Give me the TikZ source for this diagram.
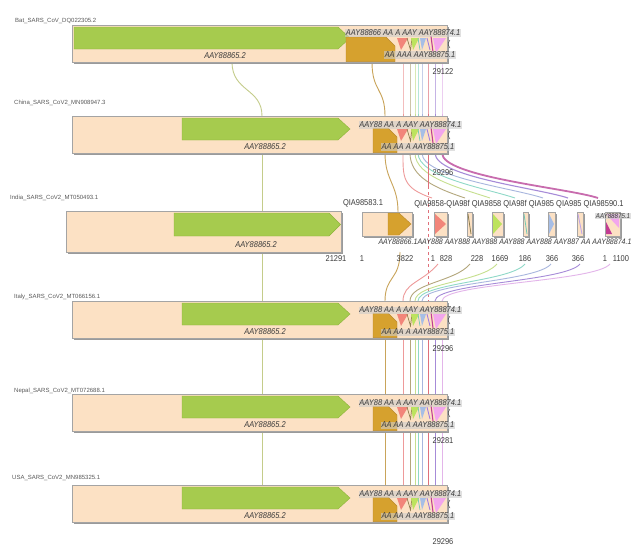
\documentclass[tikz,border=0pt]{standalone}
\usepackage{fontspec}
\setmainfont{Liberation Sans}
\newfontfamily\nrw[FakeStretch=0.88]{Liberation Sans}
\usetikzlibrary{backgrounds}
\definecolor{peach}{HTML}{FCE1C4}
\definecolor{boxline}{HTML}{A4A4A4}
\definecolor{shadc}{HTML}{9A9A9A}
\definecolor{ggreen}{HTML}{A6CB4E}
\definecolor{ggreenl}{HTML}{8DB33A}
\definecolor{gold}{HTML}{D6A12E}
\definecolor{goldd}{HTML}{B8882A}
\definecolor{gsalmon}{HTML}{F2857A}
\definecolor{glgreen}{HTML}{BDE35E}
\definecolor{gteal}{HTML}{6FC9B4}
\definecolor{gblue}{HTML}{A7BEE6}
\definecolor{gpurple}{HTML}{A37FE0}
\definecolor{gmag}{HTML}{C23C92}
\definecolor{gpink}{HTML}{F2A6EC}
\definecolor{golive}{HTML}{8E7E4E}
\definecolor{cgreen}{HTML}{C4CC8A}
\definecolor{cgold}{HTML}{C9A45A}
\definecolor{csalmon}{HTML}{EE9A9A}
\definecolor{colive}{HTML}{B3A77C}
\definecolor{clgreen}{HTML}{C6E08E}
\definecolor{cteal}{HTML}{8FD9C8}
\definecolor{cblue}{HTML}{A8B6DE}
\definecolor{cred}{HTML}{E0707A}
\definecolor{cpurple}{HTML}{A68BD8}
\definecolor{cmag}{HTML}{C86CAE}
\definecolor{cpink}{HTML}{E3B5EA}
\definecolor{labc}{HTML}{3C3C3C}
\definecolor{namec}{HTML}{5A5A5A}
\tikzset{
  tname/.style={font=\fontsize{6}{6}\selectfont, text=namec, inner sep=0pt, anchor=west},
  glab/.style={font=\nrw\itshape\fontsize{8.5}{8.5}\selectfont, text=labc, inner sep=0.5pt},
  numl/.style={font=\nrw\fontsize{8.5}{8.5}\selectfont, text=labc, inner sep=0pt},
  hl/.style={fill=gray!40, fill opacity=0.6, text opacity=1},
  boxs/.style={draw=boxline, fill=peach, line width=0.7pt},
  shad/.style={fill=shadc},
  conn/.style={line width=0.9pt},
}
\newcommand\sttrack[8]{%
\begin{scope}[shift={(0,#2)}]
\fill[shad] (73.5,1.6) rectangle (448.6,38.6);
\draw[boxs] (72,0) rectangle (447,37);
\draw[ggreenl, fill=ggreen, line width=0.4pt] (#3,2) -- (338,2) -- (350,13) -- (338,24) -- (#3,24) -- cycle;
\draw[goldd, fill=gold, line width=0.4pt] (#4,12) -- ({#5-9},12) -- (#5,21) -- (#5,36.6) -- (#4,36.6) -- cycle;
\fill[gsalmon] (397,13) -- (408,13) -- (401,25) -- cycle;
\draw[golive, line width=0.7pt] (407,13) -- (410.5,25) -- (412,13);
\fill[glgreen] (411,13) -- (419,13) -- (413,25) -- cycle;
\draw[gteal, line width=0.7pt] (418,13) -- (420,25);
\fill[gblue] (420,13) -- (426,13) -- (422,25) -- cycle;
\draw[gpurple, line width=0.9pt] (427,13) -- (430,25);
\draw[gmag, line width=1.1pt] (431,11) -- (433,27);
\fill[gpink] (433,13) -- (446,13) -- (436,28) -- cycle;
\draw[labc, line width=0.4pt] (450,15) .. controls (447.5,19) .. (450,23);
\node[glab] (#1-gl) at (#6,31) {AAY88865.2};
\node[numl] (#1-num) at (443,#8) {#7};
\foreach \k/\x in {sa/403,ol/410,lg/415,te/418,bl/422,rd/428,pu/435,pk/442} {
  \coordinate (#1-t-\k) at (\x,0);
  \coordinate (#1-b-\k) at (\x,37);
}
\end{scope}}
\begin{document}
\begin{tikzpicture}[x=1pt,y=-1pt]
\begin{pgfonlayer}{background}
\fill[white] (0,0) rectangle (632,547);
\end{pgfonlayer}
\useasboundingbox (0,0) rectangle (632,547);

% ---------- standard tracks ----------
\sttrack{bat}{25}{74}{346}{395}{225}{29122}{47}
\sttrack{chi}{116}{182}{373}{397}{265}{29296}{57}
\sttrack{ita}{301}{182}{373}{397}{265}{29296}{48}
\sttrack{nep}{394}{182}{373}{397}{265}{29281}{47}
\sttrack{usa}{485}{182}{373}{397}{265}{29296}{57}

\node[tname] (nbat) at (15,21) {Bat\_SARS\_CoV\_DQ022305.2};
\node[tname] (nchi) at (14,103) {China\_SARS\_CoV2\_MN908947.3};
\node[tname] (nind) at (10,198) {India\_SARS\_CoV2\_MT050493.1};
\node[tname] (nita) at (14,297) {Italy\_SARS\_CoV2\_MT066156.1};
\node[tname] (nnep) at (14,391) {Nepal\_SARS\_CoV2\_MT072688.1};
\node[tname] (nusa) at (12,478) {USA\_SARS\_CoV2\_MN985325.1};

\node[glab,hl,anchor=east] (batup) at (461,33) {AAY88866 AA A AAY AAY88874.1};
\node[glab,hl,anchor=east] (batlo) at (456,55) {AA AAA AAY88875.1};
\foreach \id/\T in {chi/116,ita/301,nep/394,usa/485} {
  \node[glab,hl,anchor=east] (\id-up) at (462,\T+9) {AAY88 AA A AAY AAY88874.1};
  \node[glab,hl,anchor=east] (\id-lo) at (455,\T+31) {AA AA A AAY88875.1};
}

% attach points for green and gold genes
\coordinate (bat-b-gr) at (232,62);
\coordinate (bat-b-go) at (372,62);
\foreach \id/\T in {chi/116,ita/301,nep/394,usa/485} {
  \coordinate (\id-t-gr) at (262,\T);
  \coordinate (\id-b-gr) at (262,\T+37);
  \coordinate (\id-t-go) at (385,\T);
  \coordinate (\id-b-go) at (385,\T+37);
}

% ---------- India track ----------
\fill[shad] (67.5,212.6) rectangle (342.6,253.6);
\draw[boxs] (66,211) rectangle (341,252);
\draw[ggreenl, fill=ggreen, line width=0.4pt] (174,213) -- (329,213) -- (340.5,224.5) -- (329,236) -- (174,236) -- cycle;
\node[glab] (in-gl) at (256,245) {AAY88865.2};
\node[numl] (in-n0) at (336,259) {21291};

\fill[shad] (363.5,213.6) rectangle (413.6,237.6);
\draw[boxs] (362,212) rectangle (412,236);
\draw[goldd, fill=gold, line width=0.4pt] (388,213) -- (399,213) -- (411,224) -- (399,235) -- (388,235) -- cycle;
\foreach \a/\b in {434/447,467/472,492/503,523/528,548/555,577/583,605/620} {
  \fill[shad] (\a+1.5,213.6) rectangle (\b+1.6,237.6);
  \draw[boxs] (\a,212) rectangle (\b,236);
}
\fill[gsalmon] (435,214) -- (446,224) -- (435,234) -- cycle;
\draw[golive, line width=0.8pt] (468,214) -- (471,234);
\fill[glgreen] (493,214) -- (502,224) -- (493,234) -- cycle;
\draw[gteal, line width=0.8pt] (524,214) -- (527,234);
\fill[gblue] (549,214) -- (554,224) -- (549,234) -- cycle;
\draw[gpurple!70, line width=0.8pt] (578,214) -- (582,234);
\fill[gpink] (606,214) -- (619,214) -- (619,228) -- cycle;
\fill[gmag] (606,222) -- (612,234) -- (606,234) -- cycle;

\node[numl] (in-q1) at (363,203) {QIA98583.1};
\node[numl] (in-qrow) at (519,204) {QIA9858-QIA98f QIA9858 QIA98f QIA985 QIA985 QIA98590.1};
\node[glab,font=\nrw\itshape\fontsize{8}{8}\selectfont] (in-arow) at (505,242) {AAY88866.1AAY888 AAY888 AAY888 AAY888 AAY888 AAY887 AA AAY88874.1};
\node[glab,hl,font=\nrw\itshape\fontsize{7}{7}\selectfont] (in-a75) at (613,216) {AAY88875.1};
\foreach \x/\t [count=\i] in {362/1,405/3822,433/1,446/828,477/228,500/1669,525/186,552/366,578/366,605/1,621/1100} {
  \node[numl] (in-n\i) at (\x,259) {\t};
}

\coordinate (in-t-gr) at (262,211);
\coordinate (in-b-gr) at (262,252);
\coordinate (in-t-go) at (398,212);
\coordinate (in-b-go) at (400,252);
\coordinate (rdmid) at (428,186);
\foreach \k/\x/\y in {sa/432/438,ol/465/470,lg/490/497,te/515/525,bl/543/551,pu/568/580,pk/598/610} {
  \coordinate (in-t-\k) at (\x,198);
  \coordinate (in-b-\k) at (\y,264);
}

% ---------- connectors ----------
\begin{pgfonlayer}{background}
% Bat -> China
\draw[conn,cgreen] (bat-b-gr) .. controls +(0,30) and +(0,-28) .. (chi-t-gr);
\draw[conn,cgold] (bat-b-go) .. controls +(0,30) and +(0,-28) .. (chi-t-go);
\foreach \k/\c in {sa/csalmon,ol/colive,lg/clgreen,te/cteal,bl/cblue,rd/cred,pu/cpurple,pk/cpink}
  \draw[conn,\c] (bat-b-\k) .. controls +(0,20) and +(0,-20) .. (chi-t-\k);
% China -> India
\draw[conn,cgreen] (chi-b-gr) -- (in-t-gr);
\draw[conn,cgold] (chi-b-go) .. controls +(0,28) and +(0,-28) .. (in-t-go);
\foreach \k/\c/\w in {sa/csalmon/0.9,ol/colive/0.9,lg/clgreen/0.9,te/cteal/0.9,bl/cblue/0.9,pu/cpurple/1.1,pk/cmag/1.8}
  \draw[\c, line width=\w pt] (chi-b-\k) .. controls +(0,24) and +(-30,-10) .. (in-t-\k);
\draw[conn,cred] (chi-b-rd) -- (rdmid);
\draw[conn,cred,dashed] (rdmid) -- (ita-t-rd);
% India -> Italy
\draw[conn,cgreen] (in-b-gr) -- (ita-t-gr);
\draw[conn,cgold] (in-b-go) .. controls +(0,28) and +(0,-25) .. (ita-t-go);
\foreach \k/\c in {sa/csalmon,ol/colive,lg/clgreen,te/cteal,bl/cblue,pu/cpurple,pk/cpink}
  \draw[conn,\c] (in-b-\k) .. controls +(-15,18) and +(0,-18) .. (ita-t-\k);
% Italy -> Nepal -> USA
\foreach \a/\b in {ita/nep,nep/usa} {
  \draw[conn,cgreen] (\a-b-gr) -- (\b-t-gr);
  \draw[conn,cgold] (\a-b-go) -- (\b-t-go);
  \foreach \k/\c in {sa/csalmon,ol/colive,lg/clgreen,te/cteal,bl/cblue,rd/cred,pu/cpurple,pk/cpink}
    \draw[conn,\c] (\a-b-\k) -- (\b-t-\k);
}
\end{pgfonlayer}
\end{tikzpicture}
\end{document}
